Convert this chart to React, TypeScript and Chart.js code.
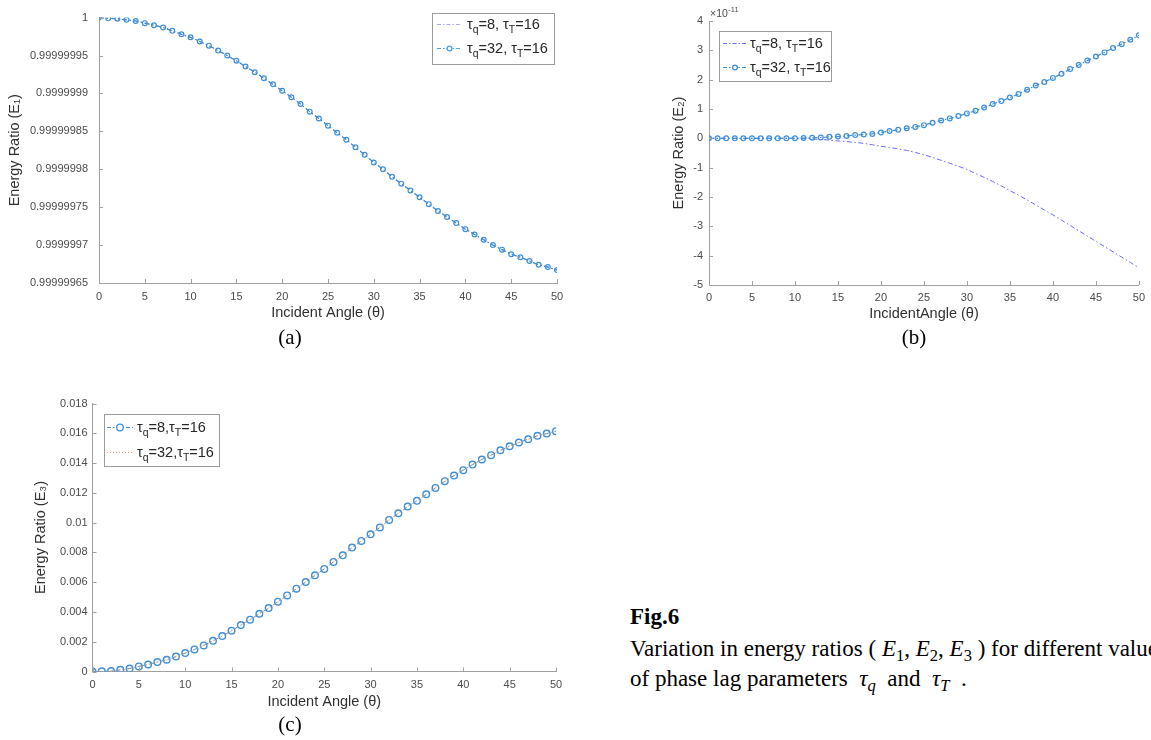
import React, { useEffect, useRef } from 'react';
import { Chart, registerables } from 'chart.js';

Chart.register(...registerables);

// ---------------- data ----------------
const ANGLES = [0, 1, 2, 3, 4, 5, 6, 7, 8, 9, 10, 11, 12, 13, 14, 15, 16, 17, 18, 19, 20, 21, 22, 23, 24, 25, 26, 27, 28, 29, 30, 31, 32, 33, 34, 35, 36, 37, 38, 39, 40, 41, 42, 43, 44, 45, 46, 47, 48, 49, 50];
const X_TICKS = [0, 5, 10, 15, 20, 25, 30, 35, 40, 45, 50];
const X_TICK_LABELS = ['0', '5', '10', '15', '20', '25', '30', '35', '40', '45', '50'];

// (a) Energy ratio E1
const E1_TQ8 = [1, 0.999999999, 0.9999999985, 0.999999997, 0.9999999955, 0.9999999927, 0.99999999, 0.999999987, 0.9999999825, 0.999999978, 0.999999974, 0.9999999685, 0.999999963, 0.9999999565, 0.99999995, 0.999999943, 0.9999999355, 0.999999928, 0.99999992, 0.999999912, 0.9999999035, 0.999999895, 0.999999886, 0.999999876, 0.999999867, 0.9999998575, 0.999999848, 0.999999839, 0.999999829, 0.999999819, 0.999999809, 0.9999998, 0.99999979, 0.999999781, 0.999999772, 0.999999763, 0.999999754, 0.999999745, 0.999999737, 0.999999729, 0.999999721, 0.999999714, 0.999999707, 0.9999997, 0.999999694, 0.999999688, 0.999999684, 0.999999679, 0.999999674, 0.999999671, 0.999999667];
const E1_TQ32 = [1, 0.999999999, 0.9999999985, 0.999999997, 0.9999999955, 0.9999999927, 0.99999999, 0.999999987, 0.9999999825, 0.999999978, 0.999999974, 0.9999999685, 0.999999963, 0.9999999565, 0.99999995, 0.999999943, 0.9999999355, 0.999999928, 0.99999992, 0.999999912, 0.9999999035, 0.999999895, 0.999999886, 0.999999876, 0.999999867, 0.9999998575, 0.999999848, 0.999999839, 0.999999829, 0.999999819, 0.999999809, 0.9999998, 0.99999979, 0.999999781, 0.999999772, 0.999999763, 0.999999754, 0.999999745, 0.999999737, 0.999999729, 0.999999721, 0.999999714, 0.999999707, 0.9999997, 0.999999694, 0.999999688, 0.999999684, 0.999999679, 0.999999674, 0.999999671, 0.999999667];
const E1_TICKS = [0.99999965, 0.9999997, 0.99999975, 0.9999998, 0.99999985, 0.9999999, 0.99999995, 1];
const E1_TICK_LABELS = ['0.99999965', '0.9999997', '0.99999975', '0.9999998', '0.99999985', '0.9999999', '0.99999995', '1'];

// (b) Energy ratio E2, in units of 1e-11
const E2_TQ8 = [0, 0, 0, 0, 0, 0, 0, 0, 0, 0, 0, -0.01, -0.02, -0.04, -0.06, -0.09, -0.11, -0.14, -0.17, -0.22, -0.27, -0.31, -0.36, -0.41, -0.48, -0.56, -0.65, -0.75, -0.85, -0.95, -1.06, -1.2, -1.33, -1.47, -1.62, -1.78, -1.94, -2.1, -2.27, -2.44, -2.61, -2.79, -2.97, -3.15, -3.33, -3.51, -3.69, -3.87, -4.05, -4.23, -4.41];
const E2_TQ32 = [0, 0, 0, 0, 0, 0, 0, 0, 0, 0, 0.005, 0.01, 0.02, 0.03, 0.05, 0.06, 0.08, 0.11, 0.13, 0.15, 0.2, 0.25, 0.29, 0.34, 0.39, 0.45, 0.53, 0.61, 0.68, 0.76, 0.85, 0.94, 1.05, 1.17, 1.27, 1.39, 1.51, 1.66, 1.8, 1.92, 2.06, 2.2, 2.36, 2.5, 2.65, 2.79, 2.93, 3.08, 3.21, 3.36, 3.51];
const E2_TICKS = [-5, -4, -3, -2, -1, 0, 1, 2, 3, 4];
const E2_TICK_LABELS = ['-5', '-4', '-3', '-2', '-1', '0', '1', '2', '3', '4'];

// (c) Energy ratio E3
const E3_TQ8 = [0, 0.00001, 0.00003, 0.00011, 0.0002, 0.00034, 0.00047, 0.00063, 0.00079, 0.001, 0.00124, 0.00148, 0.00175, 0.00206, 0.00238, 0.00274, 0.00312, 0.00348, 0.00388, 0.00426, 0.00469, 0.00511, 0.00556, 0.00601, 0.00646, 0.00689, 0.00736, 0.0078, 0.00832, 0.00877, 0.00921, 0.00968, 0.01018, 0.01063, 0.01108, 0.01146, 0.0119, 0.01233, 0.01278, 0.01316, 0.01352, 0.0139, 0.01424, 0.01453, 0.01486, 0.01513, 0.01538, 0.0156, 0.01583, 0.01598, 0.01614];
const E3_TQ32 = [0, 0.00001, 0.00003, 0.00011, 0.0002, 0.00034, 0.00047, 0.00063, 0.00079, 0.001, 0.00124, 0.00148, 0.00175, 0.00206, 0.00238, 0.00274, 0.00312, 0.00348, 0.00388, 0.00426, 0.00469, 0.00511, 0.00556, 0.00601, 0.00646, 0.00689, 0.00736, 0.0078, 0.00832, 0.00877, 0.00921, 0.00968, 0.01018, 0.01063, 0.01108, 0.01146, 0.0119, 0.01233, 0.01278, 0.01316, 0.01352, 0.0139, 0.01424, 0.01453, 0.01486, 0.01513, 0.01538, 0.0156, 0.01583, 0.01598, 0.01614];
const E3_TICKS = [0, 0.002, 0.004, 0.006, 0.008, 0.01, 0.012, 0.014, 0.016, 0.018];
const E3_TICK_LABELS = ['0', '0.002', '0.004', '0.006', '0.008', '0.01', '0.012', '0.014', '0.016', '0.018'];

// ---------------- styling ----------------
const SANS = "'Liberation Sans', Arial, Helvetica, sans-serif";
const SERIF = "'Liberation Serif', 'Times New Roman', serif";
const TICK_COLOR = '#4a4a4a';
const TITLE_COLOR = '#303030';
const AXIS_COLOR = '#a0a0a0';
const BLUE = '#3f8fd6';
const VIOLET = '#6a6aff';
const ORANGE = '#f2a07b';
const DASHDOT = [5, 2.5, 1.5, 2.5];
const TICK_SIZE = 11;
const TITLE_SIZE = 14.5;
const LEGEND_SIZE = 14.5;

type Part = { t: string; sub?: boolean };
type LegendItem = { parts: Part[]; color: string; dash: number[]; marker: number; width: number };
type Decor = {
  legend: { x: number; y: number; w: number; h: number; rowY: number[]; s0: number; s1: number; textX: number; size: number; items: LegendItem[] };
  exponent?: { x: number; y: number };
};

const tauParts = (q: string, sep: string): Part[] => [
  { t: 'τ' }, { t: 'q', sub: true }, { t: '=' + q + sep }, { t: 'τ' }, { t: 'T', sub: true }, { t: '=16' },
];

function makeDecor(d: Decor) {
  return {
    id: 'decor',
    afterDraw(chart: any) {
      const ctx = chart.ctx as CanvasRenderingContext2D;
      const xs = chart.scales.x;
      const ys = chart.scales.y;
      ctx.save();
      // inward tick marks
      ctx.strokeStyle = AXIS_COLOR;
      ctx.lineWidth = 1;
      ctx.setLineDash([]);
      ctx.beginPath();
      xs.ticks.forEach((t: any) => {
        const px = Math.round(xs.getPixelForValue(t.value)) + 0.5;
        ctx.moveTo(px, xs.top);
        ctx.lineTo(px, xs.top - 4);
      });
      ys.ticks.forEach((t: any) => {
        const py = Math.round(ys.getPixelForValue(t.value)) + 0.5;
        ctx.moveTo(ys.right, py);
        ctx.lineTo(ys.right + 4, py);
      });
      ctx.stroke();

      // exponent label
      if (d.exponent) {
        ctx.fillStyle = TICK_COLOR;
        ctx.textBaseline = 'alphabetic';
        ctx.textAlign = 'left';
        ctx.font = `10.5px ${SANS}`;
        ctx.fillText('×10', d.exponent.x, d.exponent.y);
        const w = ctx.measureText('×10').width;
        ctx.font = `7.5px ${SANS}`;
        ctx.fillText('-11', d.exponent.x + w + 0.5, d.exponent.y - 5);
      }

      // legend
      const L = d.legend;
      ctx.fillStyle = '#ffffff';
      ctx.fillRect(L.x, L.y, L.w, L.h);
      ctx.strokeStyle = '#9a9a9a';
      ctx.lineWidth = 1;
      ctx.strokeRect(L.x + 0.5, L.y + 0.5, L.w, L.h);
      L.items.forEach((it, i) => {
        const y = L.rowY[i] + 0.5;
        ctx.strokeStyle = it.color;
        ctx.lineWidth = it.width;
        ctx.setLineDash(it.dash);
        ctx.beginPath();
        ctx.moveTo(L.s0, y);
        ctx.lineTo(L.s1, y);
        ctx.stroke();
        ctx.setLineDash([]);
        if (it.marker > 0) {
          ctx.beginPath();
          ctx.arc((L.s0 + L.s1) / 2, y, it.marker, 0, Math.PI * 2);
          ctx.fillStyle = '#ffffff';
          ctx.fill();
          ctx.lineWidth = 1.3;
          ctx.stroke();
        }
        let x = L.textX;
        ctx.fillStyle = '#262626';
        ctx.textBaseline = 'middle';
        ctx.textAlign = 'left';
        it.parts.forEach((p) => {
          const size = p.sub ? L.size * 0.72 : L.size;
          ctx.font = `${size}px ${SANS}`;
          ctx.fillText(p.t, x, p.sub ? y + L.size * 0.42 : y);
          x += ctx.measureText(p.t).width;
        });
      });
      ctx.restore();
    },
  };
}

type PanelSpec = {
  datasets: any[];
  yMin: number;
  yMax: number;
  yTicks: number[];
  yTickLabels: string[];
  xTitle: string;
  yTitle: string;
  padding: { left: number; right: number; top: number; bottom: number };
  yWidth: number;
  xHeight: number;
  yTickPad: number;
  xTickPad: number;
  xTitlePad: number;
  yTitlePad: number;
  decor: Decor;
};

function buildConfig(p: PanelSpec): any {
  return {
    type: 'line',
    data: { datasets: p.datasets },
    plugins: [makeDecor(p.decor)],
    options: {
      animation: false,
      responsive: false,
      devicePixelRatio: 1,
      layout: { padding: p.padding },
      plugins: { legend: { display: false }, tooltip: { enabled: false } },
      elements: { line: { tension: 0 } },
      scales: {
        x: {
          type: 'linear',
          min: 0,
          max: 50,
          grid: { display: false, drawTicks: false },
          border: { display: true, color: AXIS_COLOR, width: 1 },
          afterBuildTicks: (s: any) => {
            s.ticks = X_TICKS.map((v) => ({ value: v }));
          },
          afterFit: (s: any) => {
            s.height = p.xHeight;
          },
          ticks: {
            padding: p.xTickPad,
            color: TICK_COLOR,
            font: { family: SANS, size: TICK_SIZE },
            maxRotation: 0,
            autoSkip: false,
            callback: (_v: any, i: number) => X_TICK_LABELS[i],
          },
          title: {
            display: true,
            text: p.xTitle,
            color: TITLE_COLOR,
            font: { family: SANS, size: TITLE_SIZE },
            padding: { top: 0, bottom: p.xTitlePad },
          },
        },
        y: {
          type: 'linear',
          min: p.yMin,
          max: p.yMax,
          grid: { display: false, drawTicks: false },
          border: { display: true, color: AXIS_COLOR, width: 1 },
          afterBuildTicks: (s: any) => {
            s.ticks = p.yTicks.map((v) => ({ value: v }));
          },
          afterFit: (s: any) => {
            s.width = p.yWidth;
          },
          ticks: {
            padding: p.yTickPad,
            color: TICK_COLOR,
            font: { family: SANS, size: TICK_SIZE },
            autoSkip: false,
            callback: (_v: any, i: number) => p.yTickLabels[i],
          },
          title: {
            display: true,
            text: p.yTitle,
            color: TITLE_COLOR,
            font: { family: SANS, size: TITLE_SIZE },
            padding: { top: p.yTitlePad, bottom: 0 },
          },
        },
      },
    },
  };
}

const pts = (ys: number[]) => ANGLES.map((a, i) => ({ x: a, y: ys[i] }));

function configA() {
  return buildConfig({
    datasets: [
      { label: 'τq=8, τT=16', data: pts(E1_TQ8), borderColor: VIOLET, borderWidth: 1, borderDash: DASHDOT, pointRadius: 0, order: 2 },
      {
        label: 'τq=32, τT=16', data: pts(E1_TQ32), borderColor: BLUE, borderWidth: 1.2, borderDash: DASHDOT,
        pointRadius: 2.4, pointBorderWidth: 1.2, pointBorderColor: BLUE, pointBackgroundColor: 'rgba(255,255,255,0)', order: 1,
      },
    ],
    yMin: 0.99999965,
    yMax: 1,
    yTicks: E1_TICKS,
    yTickLabels: E1_TICK_LABELS,
    xTitle: 'Incident Angle (θ)',
    yTitle: 'Energy Ratio (E₁)',
    padding: { left: 0, right: 23, top: 10, bottom: 0 },
    yWidth: 99,
    xHeight: 47,
    yTickPad: 11,
    xTickPad: 7,
    xTitlePad: 8,
    yTitlePad: 6,
    decor: {
      legend: {
        x: 432, y: 13, w: 122, h: 51, rowY: [24, 48], s0: 437, s1: 462, textX: 467, size: LEGEND_SIZE,
        items: [
          { parts: tauParts('8', ', '), color: '#a8a8ff', dash: [4, 2, 1.5, 2], marker: 0, width: 1 },
          { parts: tauParts('32', ', '), color: '#4aa3de', dash: [4, 2, 1.5, 2], marker: 2.4, width: 1 },
        ],
      },
    },
  });
}

function configB() {
  return buildConfig({
    datasets: [
      { label: 'τq=8, τT=16', data: pts(E2_TQ8), borderColor: VIOLET, borderWidth: 1, borderDash: DASHDOT, pointRadius: 0, order: 2 },
      {
        label: 'τq=32, τT=16', data: pts(E2_TQ32), borderColor: BLUE, borderWidth: 1.2, borderDash: DASHDOT,
        pointRadius: 2.4, pointBorderWidth: 1.2, pointBorderColor: BLUE, pointBackgroundColor: 'rgba(255,255,255,0)', order: 1,
      },
    ],
    yMin: -5,
    yMax: 4,
    yTicks: E2_TICKS,
    yTickLabels: E2_TICK_LABELS,
    xTitle: 'IncidentAngle (θ)',
    yTitle: 'Energy Ratio (E₂)',
    padding: { left: 0, right: 8, top: 21, bottom: 0 },
    yWidth: 69,
    xHeight: 45,
    yTickPad: 6,
    xTickPad: 6,
    xTitlePad: 7.5,
    yTitlePad: 30,
    decor: {
      exponent: { x: 70, y: 17 },
      legend: {
        x: 79, y: 31, w: 112, h: 50, rowY: [43, 67], s0: 83, s1: 107, textX: 110, size: LEGEND_SIZE,
        items: [
          { parts: tauParts('8', ', '), color: VIOLET, dash: [4, 2, 1.5, 2], marker: 0, width: 1 },
          { parts: tauParts('32', ', '), color: BLUE, dash: [4, 2, 1.5, 2], marker: 2.4, width: 1 },
        ],
      },
    },
  });
}

function configC() {
  return buildConfig({
    datasets: [
      {
        label: 'τq=8,τT=16', data: pts(E3_TQ8), borderColor: BLUE, borderWidth: 1, borderDash: DASHDOT,
        pointRadius: 3.3, pointBorderWidth: 1.4, pointBorderColor: BLUE, pointBackgroundColor: 'rgba(255,255,255,0)', order: 2,
      },
      { label: 'τq=32,τT=16', data: pts(E3_TQ32), borderColor: ORANGE, borderWidth: 1, borderDash: [1, 2], pointRadius: 0, order: 1 },
    ],
    yMin: 0,
    yMax: 0.018,
    yTicks: E3_TICKS,
    yTickLabels: E3_TICK_LABELS,
    xTitle: 'Incident Angle (θ)',
    yTitle: 'Energy Ratio (E₃)',
    padding: { left: 0, right: 24, top: 23.5, bottom: 0 },
    yWidth: 92.5,
    xHeight: 48.5,
    yTickPad: 5,
    xTickPad: 7,
    xTitlePad: 9,
    yTitlePad: 32.5,
    decor: {
      legend: {
        x: 104, y: 34, w: 115, h: 52, rowY: [47, 72], s0: 107, s1: 133, textX: 137, size: LEGEND_SIZE,
        items: [
          { parts: tauParts('8', ','), color: BLUE, dash: [4, 2, 1.5, 2], marker: 3.3, width: 1 },
          { parts: tauParts('32', ','), color: ORANGE, dash: [1, 2], marker: 0, width: 1 },
        ],
      },
    },
  });
}

function Panel(props: { left: number; top: number; width: number; height: number; build: () => any }) {
  const ref = useRef<HTMLCanvasElement>(null);
  useEffect(() => {
    if (!ref.current) return;
    const chart = new Chart(ref.current, props.build());
    return () => chart.destroy();
  }, []);
  return (
    <canvas
      ref={ref}
      width={props.width}
      height={props.height}
      style={{ position: 'absolute', left: props.left, top: props.top, width: props.width, height: props.height }}
    />
  );
}

const subStyle: React.CSSProperties = { fontSize: '0.72em', verticalAlign: '-0.32em', lineHeight: 0 };

function Label(props: { text: string; cx: number; top: number }) {
  return (
    <div
      style={{
        position: 'absolute', left: props.cx - 40, top: props.top, width: 80, textAlign: 'center',
        font: `21px/21px ${SERIF}`, color: '#000', whiteSpace: 'nowrap',
      }}
    >
      {props.text}
    </div>
  );
}

export default function App() {
  return (
    <div style={{ position: 'absolute', left: 0, top: 0, width: 1151, height: 740, overflow: 'hidden', background: '#ffffff' }}>
      <Panel left={0} top={0} width={580} height={330} build={configA} />
      <Panel left={640} top={0} width={511} height={330} build={configB} />
      <Panel left={0} top={380} width={580} height={340} build={configC} />
      <Label text="(a)" cx={290} top={326.5} />
      <Label text="(b)" cx={914} top={326.5} />
      <Label text="(c)" cx={290} top={713.5} />
      <div style={{ position: 'absolute', left: 630, top: 605, font: `bold 23px/23px ${SERIF}`, whiteSpace: 'nowrap', color: '#000' }}>
        Fig.6
      </div>
      <div style={{ position: 'absolute', left: 630, top: 637, font: `23px/23px ${SERIF}`, whiteSpace: 'nowrap', color: '#000' }}>
        Variation in energy ratios (&nbsp;<i>E</i><sub style={subStyle}>1</sub>, <i>E</i><sub style={subStyle}>2</sub>, <i>E</i><sub style={subStyle}>3</sub>&nbsp;) for different values
      </div>
      <div style={{ position: 'absolute', left: 630, top: 667, font: `23px/23px ${SERIF}`, whiteSpace: 'nowrap', color: '#000' }}>
        of phase lag parameters&nbsp;&nbsp;<i>τ<sub style={subStyle}>q</sub></i>&nbsp;&nbsp;and&nbsp;&nbsp;<i>τ<sub style={subStyle}>T</sub></i>&nbsp;&nbsp;.
      </div>
    </div>
  );
}
